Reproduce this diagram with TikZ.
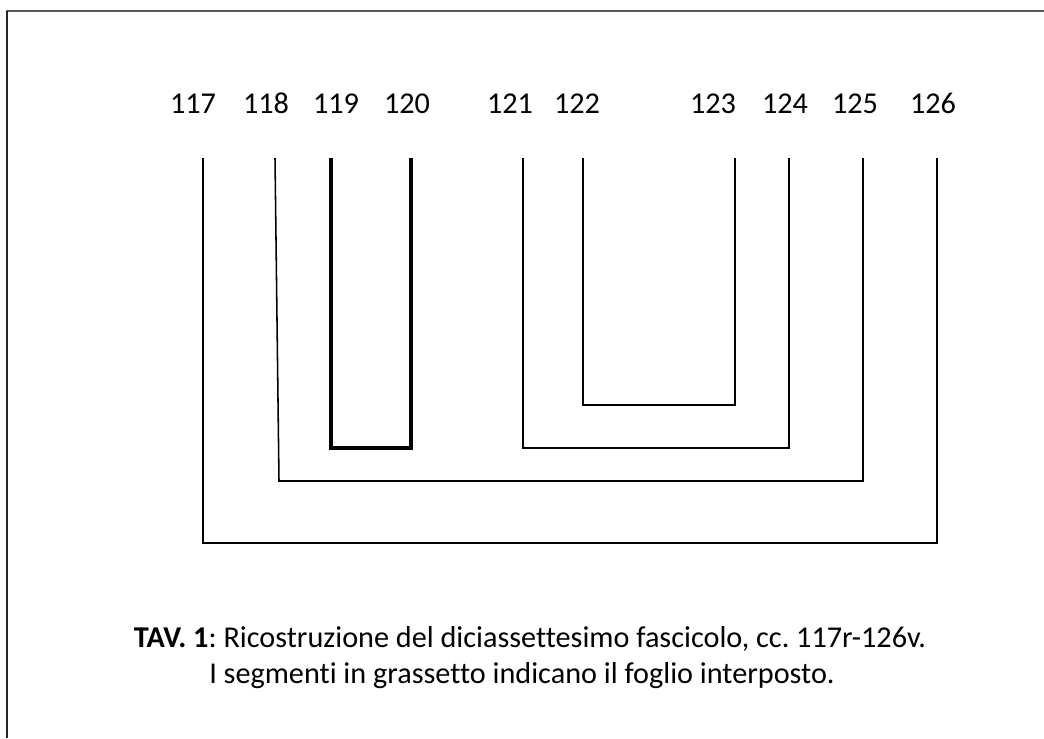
\documentclass[tikz,border=0pt]{standalone}
\usepackage{fontspec}
\setmainfont{Carlito}[Ligatures={NoCommon}]
\frenchspacing
\usetikzlibrary{calc}
\tikzset{
  foglio/.style={line width=1.1pt,line join=miter},
  interposto/.style={line width=3pt,line join=miter},
  carta/.style={inner sep=0pt,anchor=base,font=\fontsize{21.5}{26}\selectfont},
}

\begin{document}
\begin{tikzpicture}[x=0.025cm,y=-0.025cm]
\useasboundingbox (0,0) rectangle (1044,738);
% cornice
\draw[line width=1.4pt,black!65] (7,738) -- (7,11) -- (1044,11);
\draw[line width=1.4pt,black!85] (7,738) -- (7,11);

% numeri delle carte e teste dei segmenti
\foreach \c/\lx/\sx in {117/193/203,118/266/275,119/336/331,120/407/411,121/510/523,
                        122/577/583,123/713/735,124/785/789,125/855/863,126/933/937}{
  \node[carta] (n\c) at (\lx,113) {\c};
  \coordinate (t\c) at (\sx,158);
}

% bifogli
\draw[foglio] (t117) -- ($(t117)+(0,385)$) -- ($(t126)+(0,385)$) -- (t126);
\draw[foglio] (t118) -- ($(t118)+(4,323)$) -- ($(t125)+(0,323)$) -- (t125);
\draw[foglio] (t121) -- ($(t121)+(0,290)$) -- ($(t124)+(0,290)$) -- (t124);
\draw[foglio] (t122) -- ($(t122)+(0,247)$) -- ($(t123)+(0,247)$) -- (t123);
\draw[interposto] (t119) -- ($(t119)+(0,290)$) -- ($(t120)+(0,290)$) -- (t120);

% didascalia
\node[carta,anchor=base] (tav) at (530,647)
  {\textbf{TAV.~1}: Ricostruzione del diciassettesimo fascicolo, cc. 117r-126v.};
\node[carta,anchor=base] (nota) at (522,683)
  {I segmenti in grassetto indicano il foglio interposto.};
\end{tikzpicture}
\end{document}
